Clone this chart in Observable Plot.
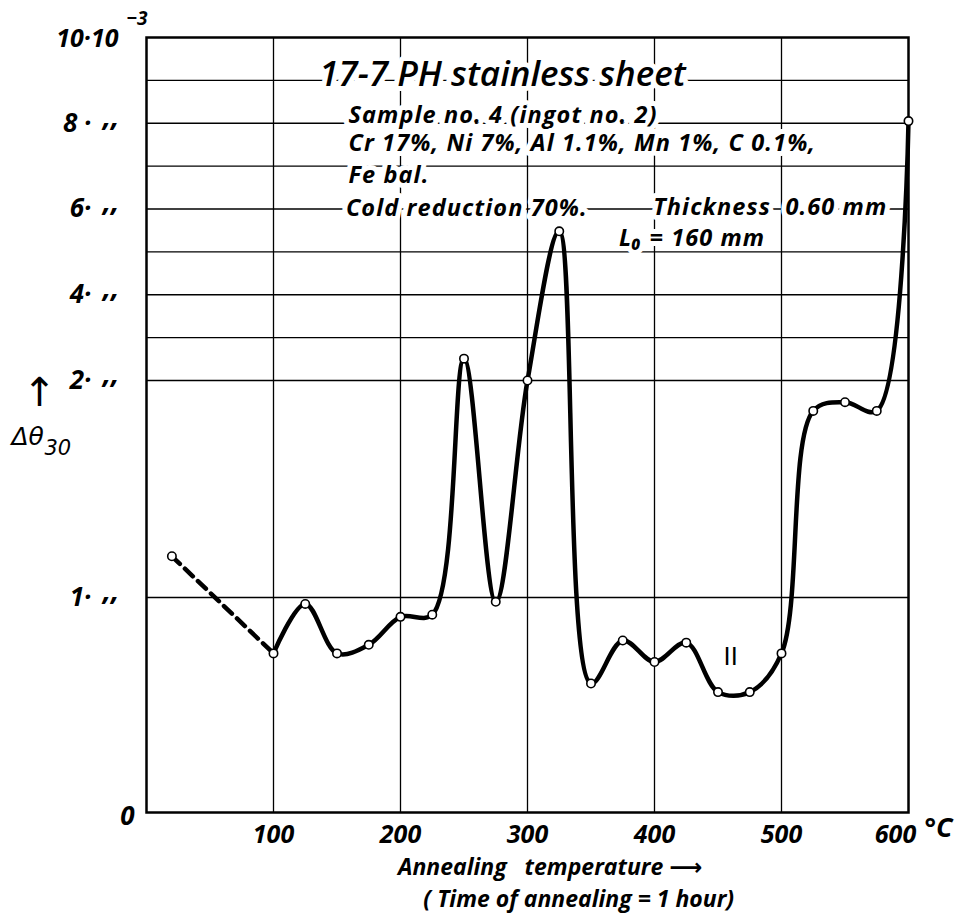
<!DOCTYPE html>
<html>
<head>
<meta charset="utf-8">
<script src="https://cdn.jsdelivr.net/npm/d3@7"></script>
<script src="https://cdn.jsdelivr.net/npm/@observablehq/plot@0.6"></script>
<style>
  html, body { margin: 0; padding: 0; background: #fff; }
  svg { display: block; }
</style>
</head>
<body>
<div id="chart"></div>
<script>
// ---- data ----
const temperatures = [100, 125, 150, 175, 200, 225, 250, 275, 300, 325, 350, 375, 400, 425, 450, 475, 500, 525, 550, 575, 600];
const deltaTheta   = [0.74, 0.97, 0.74, 0.78, 0.91, 0.92, 2.51, 0.98, 2.0, 5.48, 0.60, 0.80, 0.70, 0.79, 0.56, 0.56, 0.74, 1.86, 1.90, 1.86, 8.05];
const dashedTemps  = [20, 100];
const dashedValues = [1.19, 0.74];

const xTickValues = [100, 200, 300, 400, 500];
const xTickLabels = ["100", "200", "300", "400", "500"];
const xLastTick = 600;
const xLastLabel = "600";
const xUnit = "°C";
const yTickValues = [1, 2, 4, 6, 8];
const yTickNumbers = ["1·", "2·", "4·", "6·", "8 ·"];
const yDitto = ",,";
const yGridValues = [1, 2, 3, 4, 5, 6, 7, 8, 9];
const xGridValues = [100, 200, 300, 400, 500];

const titleText = "17-7 PH stainless sheet";
const noteLines = [
  "Sample no. 4 (ingot no. 2)",
  "Cr 17%, Ni 7%, Al 1.1%, Mn 1%, C 0.1%,",
  "Fe bal.",
  "Cold reduction 70%."
];
const thicknessText = "Thickness  0.60 mm";
const lengthText = "L₀ = 160 mm";
const xTitle1 = "Annealing   temperature ⟶";
const xTitle2 = "( Time of annealing = 1 hour)";

const curve = temperatures.map((t, i) => ({t, v: deltaTheta[i]}));
const dashed = dashedTemps.map((t, i) => ({t, v: dashedValues[i]}));
const allPoints = dashed.slice(0, 1).concat(curve);

// note positions in data units (annotation anchors)
const noteX = [159, 159, 159, 157];
const noteY = [8.19, 7.52, 6.78, 6.01];
const notes = noteLines.map((s, i) => ({s, x: noteX[i], y: noteY[i]}));

const FONT = "'Open Sans', 'DejaVu Sans', sans-serif";
const halo = {stroke: "white", strokeWidth: 10, fill: "black", fontFamily: FONT, fontStyle: "italic", fontWeight: 700};
const bi = {fontStyle: "italic", fontWeight: 700, fill: "black"};

const chart = Plot.plot({
  width: 961,
  height: 916,
  marginLeft: 146,
  marginRight: 53,
  marginTop: 37,
  marginBottom: 104,
  style: {fontFamily: FONT, background: "white", color: "black", overflow: "visible"},
  x: {domain: [0, 600], axis: null},
  y: {type: "linear", domain: [0, 1, 2, 10], range: [812, 597, 380, 37], axis: null},
  marks: [
    // grid
    Plot.ruleY(yGridValues, {stroke: "black", strokeWidth: 1.3}),
    Plot.ruleX(xGridValues, {stroke: "black", strokeWidth: 1.3}),
    // annotations with white halo (knock out grid lines)
    Plot.text([titleText], {x: 136, y: 9.12, text: d => d, textAnchor: "start", fontSize: 35, ...halo, fontWeight: 600}),
    Plot.text(notes, {x: "x", y: "y", text: "s", textAnchor: "start", fontSize: 23.5, ...halo}),
    Plot.text([thicknessText], {x: 399, y: 6.03, text: d => d, textAnchor: "start", fontSize: 23.5, ...halo}),
    Plot.text([lengthText], {x: 372, y: 5.31, text: d => d, textAnchor: "start", fontSize: 23.5, ...halo}),
    // frame
    Plot.frame({stroke: "black", strokeWidth: 2.5}),
    // data
    Plot.line(dashed, {x: "t", y: "v", stroke: "black", strokeWidth: 4.5, strokeDasharray: "11,7"}),
    Plot.line(curve, {x: "t", y: "v", curve: "catmull-rom", stroke: "black", strokeWidth: 4.5}),
    Plot.dot(allPoints, {x: "t", y: "v", r: 4.2, fill: "white", stroke: "black", strokeWidth: 1.6}),
    Plot.text(["II"], {x: 460, y: 0.72, text: d => d, fontSize: 24, fontFamily: "'DejaVu Sans', sans-serif", fill: "black"}),
    // x tick labels
    Plot.text(xTickValues, {x: d => d, y: 0, text: (d, i) => xTickLabels[i], dy: 22, fontSize: 25, ...bi}),
    Plot.text([xLastTick], {x: d => d, y: 0, text: () => xLastLabel, dx: -13, dy: 22, fontSize: 25, ...bi}),
    Plot.text([xLastTick], {x: d => d, y: 0, text: () => xUnit, dx: 16, dy: 16, fontSize: 27, textAnchor: "start", ...bi}),
    // y tick labels
    Plot.text(yTickValues, {x: 0, y: d => d, text: (d, i) => yTickNumbers[i], dx: -55, fontSize: 26, textAnchor: "end", ...bi}),
    Plot.text(yTickValues, {x: 0, y: d => d, text: () => yDitto, dx: -27, dy: -7, fontSize: 29, textAnchor: "end", ...bi}),
    Plot.text([0], {x: 0, y: d => d, text: () => "0", dx: -12, dy: 4, fontSize: 26, textAnchor: "end", ...bi}),
    Plot.text([10], {x: 0, y: d => d, text: () => "10·10", dx: -28, dy: 1, fontSize: 25, textAnchor: "end", ...bi}),
    Plot.text([10], {x: 0, y: d => d, text: () => "−3", dx: -20, dy: -19, fontSize: 19, textAnchor: "start", ...bi}),
    // y axis title
    Plot.text(["↑"], {x: 0, y: 1.94, text: d => d, dx: -107, fontSize: 40, fill: "black", fontFamily: "'DejaVu Sans', sans-serif"}),
    Plot.text(["Δθ"], {x: 0, y: 1.74, text: d => d, dx: -135, textAnchor: "start", fontSize: 25, fontStyle: "italic", fill: "black", fontFamily: "'DejaVu Sans', sans-serif"}),
    Plot.text(["30"], {x: 0, y: 1.69, text: d => d, dx: -102, textAnchor: "start", fontSize: 21, fontStyle: "italic", fill: "black", fontFamily: "'DejaVu Sans', sans-serif"}),
    // x axis title
    Plot.text([xTitle1], {x: 198, y: 0, text: d => d, dy: 55, textAnchor: "start", fontSize: 23, ...bi}),
    Plot.text([xTitle2], {x: 218, y: 0, text: d => d, dy: 87, textAnchor: "start", fontSize: 23, ...bi})
  ]
});
const spaced = new Set([...noteLines, thicknessText, lengthText]);
d3.select(chart).selectAll("text")
  .filter(function() { return spaced.has(this.textContent); })
  .style("letter-spacing", "1.1px");
document.getElementById("chart").appendChild(chart);
</script>
</body>
</html>
